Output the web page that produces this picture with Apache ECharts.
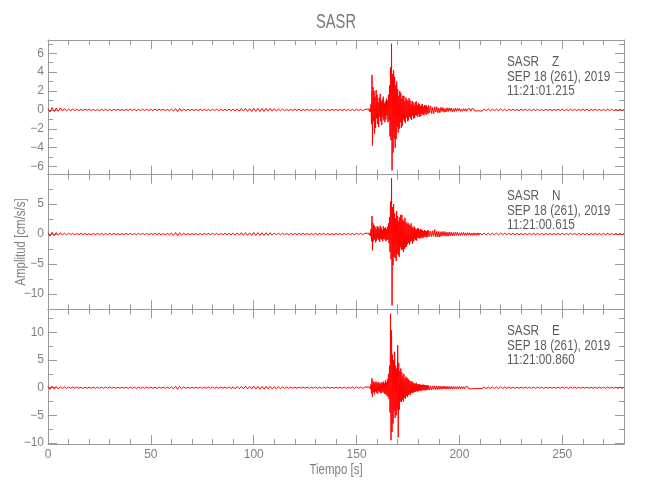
<!DOCTYPE html>
<html><head><meta charset="utf-8">
<script src="https://cdn.jsdelivr.net/npm/echarts@6/dist/echarts.min.js"></script>
<style>html,body{margin:0;padding:0;background:#fff}#c{width:650px;height:500px}</style>
</head><body><div id="c"></div>
<script>
// ---------- data ----------
const chartTitle = 'SASR';
const components = ['Z', 'N', 'E'];
const startTimes = ['11:21:01.215', '11:21:00.615', '11:21:00.860'];
const dateText = 'SEP 18 (261), 2019';
const xName = 'Tiempo [s]';
const yName = 'Amplitud [cm/s/s]';

// sampling segments (start time [s], sample step [s])
const segStart = [0, 155, 185, 210];
const segStep = [1, 0.25, 0.5, 1];

// Z component
const zPre = [0.12,-0.22,0.25,-0.18,0.2,-0.15,0.22,-0.12,0.15,-0.1,
  0.08,-0.07,0.09,-0.06,0.07,-0.08,0.06,-0.07,0.08,-0.05,
  0.07,-0.08,0.06,-0.07,0.05,-0.08,0.07,-0.06,0.08,-0.07,
  0.06,-0.08,0.07,-0.05,0.08,-0.07,0.06,-0.08,0.07,-0.06,
  0.08,-0.06,0.07,-0.08,0.05,-0.07,0.08,-0.06,0.07,-0.08,
  0.06,-0.07,0.08,-0.06,0.07,-0.05,0.08,-0.07,0.06,-0.08,
  0.09,-0.12,0.15,-0.18,0.16,-0.12,0.1,-0.08,0.07,-0.06,
  0.08,-0.07,0.06,-0.08,0.07,-0.06,0.08,-0.07,0.05,-0.08,
  0.07,-0.06,0.08,-0.07,0.06,-0.08,0.07,-0.06,0.08,-0.09,
  0.1,-0.12,0.11,-0.14,0.15,-0.13,0.16,-0.15,0.14,-0.17,
  0.18,-0.15,0.17,-0.16,0.14,-0.17,0.15,-0.13,0.16,-0.14,
  0.13,-0.12,0.11,-0.1,0.09,-0.08,0.07,-0.08,0.06,-0.07,
  0.08,-0.06,0.07,-0.08,0.06,-0.07,0.08,-0.06,0.07,-0.08,
  0.06,-0.07,0.08,-0.06,0.07,-0.08,0.05,-0.07,0.08,-0.06,
  0.07,-0.08,0.06,-0.07,0.08,-0.06,0.07,-0.08,0.06,-0.07,
  0.08,-0.06,0.07,-0.08,0.06];
const zEvent = [0.08,-0.1,0.12,-0.09, 0.1,-0.15,0.12,-0.18, 0.6,-1.5,3.7,-3.8, 2.4,-1.2,2.0,-2.5,
  1.4,-1.9,2.1,-0.9, 1.6,-1.5,0.8,-1.8, 1.3,-0.7,1.7,-1.2, 0.9,-1.6,1.1,-0.8,
  1.4,-1.1,0.7,-1.3, 0.9,-1.0,1.2,-0.6, 1.0,-1.3,1.6,-1.1, 2.6,-2.8,4.5,-3.2,
  7.0,-6.4,3.8,-4.5, 4.2,-3.0,3.5,-4.0, 2.6,-3.1,3.0,-1.8, 2.2,-2.4,1.5,-2.0,
  2.0,-1.3,1.8,-1.9, 1.2,-1.7,1.5,-1.0, 1.5,-1.2,0.9,-1.4, 1.3,-0.8,1.1,-1.2,
  0.9,-1.1,1.25,-0.7, 1.0,-0.9,0.6,-1.05, 0.95,-0.6,0.8,-0.9, 0.5,-0.85,0.8,-0.55,
  0.9,-0.6,0.5,-0.75, 0.7,-0.45,0.6,-0.72, 0.4,-0.65,0.55,-0.4, 0.62,-0.5,0.35,-0.55,
  0.5,-0.3,0.45,-0.52, 0.48,-0.35,0.3,-0.45];
const zCoda = [0.5,-0.3,0.42,-0.38,0.26,-0.4,0.34,-0.22,0.33,-0.3,
  0.2,-0.3,0.27,-0.18,0.26,-0.24,0.15,-0.22,0.23,-0.17,
  0.22,-0.13,0.21,-0.2,0.12,-0.18,0.2,-0.14,0.18,-0.11,
  0.17,-0.15,0.1,-0.15,0.14,-0.12,0.13,-0.14,0.09,-0.12,
  0.12,-0.13,0.11,-0.08,0.12,-0.11,0.1,-0.09,0.1,-0.1];
const zTail = [0.1,-0.12,0.09,-0.1,0.11,-0.09,0.08,-0.1,0.09,-0.08,
  0.1,-0.08,0.07,-0.09,0.08,-0.07,0.08,-0.07,0.06,-0.08,
  0.07,-0.06,0.08,-0.07,0.06,-0.08,0.07,-0.06,0.08,-0.07,
  0.06,-0.07,0.08,-0.06,0.07,-0.08,0.06,-0.07,0.08,-0.06,
  0.07,-0.08,0.06,-0.07,0.08,-0.06,0.07,-0.08,0.06,-0.07,
  0.08,-0.06,0.07,-0.08,0.06,-0.07,0.08,-0.06,0.07,-0.08,
  0.06,-0.07,0.08,-0.06,0.07,-0.08,0.06,-0.07,0.08,-0.06,
  0.05];

// N component
const nPre = [0.2,-0.35,0.3,-0.28,0.25,-0.2,0.22,-0.18,0.15,-0.13,
  0.12,-0.1,0.11,-0.12,0.09,-0.1,0.12,-0.09,0.1,-0.11,
  0.09,-0.12,0.1,-0.11,0.12,-0.09,0.1,-0.12,0.11,-0.1,
  0.12,-0.09,0.11,-0.1,0.09,-0.12,0.1,-0.11,0.12,-0.09,
  0.1,-0.12,0.09,-0.11,0.12,-0.1,0.11,-0.09,0.1,-0.12,
  0.11,-0.1,0.12,-0.09,0.1,-0.11,0.09,-0.12,0.1,-0.11,
  0.14,-0.2,0.25,-0.28,0.22,-0.18,0.14,-0.12,0.1,-0.11,
  0.12,-0.1,0.09,-0.11,0.1,-0.12,0.11,-0.09,0.1,-0.11,
  0.12,-0.1,0.11,-0.12,0.09,-0.1,0.12,-0.11,0.13,-0.14,
  0.16,-0.18,0.2,-0.17,0.22,-0.2,0.24,-0.21,0.2,-0.23,
  0.26,-0.22,0.24,-0.25,0.21,-0.24,0.22,-0.2,0.23,-0.19,
  0.18,-0.16,0.15,-0.14,0.13,-0.12,0.11,-0.12,0.1,-0.11,
  0.12,-0.1,0.11,-0.09,0.12,-0.1,0.11,-0.12,0.09,-0.1,
  0.11,-0.12,0.1,-0.09,0.12,-0.11,0.1,-0.12,0.09,-0.11,
  0.12,-0.1,0.11,-0.12,0.1,-0.09,0.12,-0.11,0.1,-0.12,
  0.11,-0.1,0.12,-0.11,0.13];
const nEvent = [0.12,-0.15,0.1,-0.14, 0.15,-0.2,0.18,-0.3, 0.8,-1.2,3.0,-2.7, 1.8,-1.2,1.5,-0.9,
  1.2,-1.4,0.8,-1.1, 1.3,-0.7,1.2,-1.0, 0.9,-1.3,1.4,-0.8, 1.1,-0.9,0.7,-1.2,
  1.3,-0.8,1.0,-0.9, 1.1,-1.2,0.8,-1.0, 1.2,-0.9,1.8,-1.5, 2.8,-3.0,5.4,-4.2,
  9.3,-11.9,4.5,-5.2, 5.0,-3.8,3.4,-4.0, 2.6,-4.5,3.8,-3.2, 3.0,-3.5,2.2,-3.8,
  2.8,-2.2,3.2,-2.6, 3.2,-2.6,2.4,-3.0, 2.1,-2.5,2.7,-2.2, 2.0,-2.1,1.6,-1.7,
  1.9,-1.5,1.6,-1.8, 1.4,-1.3,1.8,-1.1, 1.2,-1.6,1.0,-1.2, 1.3,-0.8,0.95,-1.0,
  0.8,-1.1,0.9,-0.6, 1.0,-0.7,0.6,-0.75, 0.85,-0.55,0.75,-0.6, 0.6,-0.7,0.5,-0.48,
  0.65,-0.5,0.55,-0.45, 0.45,-0.55,0.6,-0.4];
const nCoda = [0.6,-0.4,0.5,-0.45,0.55,-0.35,0.75,-0.5,0.45,-0.48,
  0.42,-0.5,0.38,-0.35,0.45,-0.3,0.4,-0.36,0.3,-0.37,
  0.34,-0.28,0.3,-0.3,0.26,-0.3,0.29,-0.22,0.3,-0.27,
  0.22,-0.27,0.25,-0.2,0.26,-0.23,0.2,-0.22,0.23,-0.18,
  0.21,-0.22,0.17,-0.21,0.2,-0.19,0.16,-0.18,0.19,-0.17];
const nTail = [0.18,-0.17,0.16,-0.17,0.15,-0.16,0.15,-0.14,0.16,-0.13,
  0.14,-0.13,0.12,-0.14,0.13,-0.12,0.12,-0.11,0.13,-0.12,
  0.11,-0.12,0.1,-0.11,0.12,-0.1,0.11,-0.1,0.12,-0.11,
  0.1,-0.12,0.11,-0.1,0.12,-0.11,0.1,-0.11,0.12,-0.1,
  0.11,-0.12,0.1,-0.11,0.12,-0.1,0.11,-0.12,0.1,-0.11,
  0.12,-0.1,0.11,-0.12,0.1,-0.11,0.12,-0.1,0.11,-0.12,
  0.1,-0.11,0.12,-0.1,0.11,-0.12,0.1,-0.11,0.12,-0.1,
  0.09];

// E component
const ePre = [0.22,-0.3,0.28,-0.25,0.2,-0.22,0.18,-0.15,0.16,-0.13,
  0.12,-0.11,0.13,-0.1,0.12,-0.11,0.1,-0.13,0.11,-0.12,
  0.1,-0.12,0.13,-0.11,0.1,-0.12,0.11,-0.1,0.13,-0.11,
  0.12,-0.1,0.11,-0.13,0.1,-0.11,0.12,-0.1,0.11,-0.12,
  0.13,-0.11,0.1,-0.12,0.11,-0.13,0.1,-0.11,0.12,-0.1,
  0.11,-0.12,0.1,-0.13,0.12,-0.1,0.11,-0.12,0.1,-0.11,
  0.15,-0.22,0.27,-0.3,0.24,-0.18,0.15,-0.13,0.11,-0.12,
  0.1,-0.11,0.12,-0.1,0.11,-0.13,0.1,-0.11,0.12,-0.1,
  0.11,-0.12,0.1,-0.11,0.13,-0.1,0.12,-0.11,0.14,-0.15,
  0.17,-0.2,0.22,-0.19,0.24,-0.21,0.26,-0.22,0.23,-0.25,
  0.28,-0.24,0.26,-0.27,0.23,-0.25,0.24,-0.22,0.25,-0.2,
  0.19,-0.17,0.16,-0.15,0.14,-0.13,0.12,-0.13,0.11,-0.12,
  0.1,-0.12,0.11,-0.1,0.13,-0.11,0.1,-0.12,0.11,-0.1,
  0.12,-0.11,0.1,-0.13,0.11,-0.1,0.12,-0.11,0.1,-0.12,
  0.11,-0.1,0.12,-0.11,0.1,-0.12,0.11,-0.1,0.13,-0.11,
  0.12,-0.1,0.11,-0.13,0.12];
const eEvent = [0.12,-0.14,0.15,-0.12, 0.18,-0.15,0.2,-0.25, 0.6,-1.1,1.7,-1.7, 1.2,-0.8,1.0,-1.2,
  0.9,-0.7,1.1,-0.9, 0.8,-1.1,1.0,-0.6, 0.9,-0.8,0.7,-1.0, 1.0,-0.9,0.8,-0.7,
  1.1,-0.9,0.8,-1.1, 1.3,-1.2,1.0,-1.4, 1.5,-1.6,2.5,-2.0, 4.0,-4.5,13.4,-9.5,
  10.4,-8.0,6.0,-6.5, 5.0,-4.2,6.5,-5.5, 4.0,-5.0,3.5,-4.0, 7.7,-9.0,4.5,-4.0,
  3.0,-2.5,3.5,-2.6, 2.8,-2.2,2.0,-2.5, 2.5,-1.8,1.6,-2.0, 2.0,-1.5,1.8,-1.7,
  1.6,-1.3,1.4,-1.2, 1.2,-1.25,1.1,-0.9, 1.15,-1.0,0.9,-0.85, 0.8,-0.75,0.7,-0.72,
  0.9,-0.6,0.65,-0.7, 0.6,-0.58,0.62,-0.5, 0.55,-0.6,0.5,-0.45, 0.52,-0.48,0.55,-0.4,
  0.46,-0.5,0.44,-0.42, 0.42,-0.43,0.4,-0.38];
const eCoda = [0.4,-0.38,0.36,-0.4,0.34,-0.3,0.35,-0.33,0.3,-0.32,
  0.32,-0.28,0.27,-0.3,0.29,-0.25,0.28,-0.26,0.25,-0.27,
  0.26,-0.23,0.22,-0.25,0.24,-0.21,0.2,-0.23,0.22,-0.2,
  0.21,-0.19,0.2,-0.21,0.18,-0.2,0.19,-0.17,0.18,-0.19,
  0.17,-0.18,0.16,-0.17,0.17,-0.15,0.15,-0.16,0.16,-0.15];
const eTail = [0.18,-0.16,0.15,-0.17,0.14,-0.15,0.16,-0.14,0.13,-0.15,
  0.13,-0.14,0.12,-0.13,0.14,-0.12,0.13,-0.12,0.11,-0.12,
  0.11,-0.1,0.12,-0.11,0.1,-0.12,0.11,-0.1,0.12,-0.11,
  0.1,-0.12,0.11,-0.1,0.12,-0.11,0.1,-0.12,0.11,-0.1,
  0.12,-0.11,0.1,-0.12,0.11,-0.1,0.12,-0.11,0.1,-0.12,
  0.11,-0.1,0.12,-0.11,0.1,-0.12,0.11,-0.1,0.12,-0.11,
  0.1,-0.12,0.11,-0.1,0.12,-0.11,0.1,-0.12,0.11,-0.1,
  0.1];

// axes / tick labels
const xRange = [0, 280];
const xMajor = [0, 50, 100, 150, 200, 250];
const xMinor = [10,20,30,40,60,70,80,90,110,120,130,140,160,170,180,190,210,220,230,240,260,270,280];
const yRanges = [[-6.85, 7.4], [-12.55, 9.9], [-10.2, 14.2]];
const yMajor = [[-6,-4,-2,0,2,4,6], [-10,-5,0,5], [-10,-5,0,5,10]];
const yMinor = [[-5,-3,-1,1,3,5,7], [-7.5,-2.5,2.5,7.5], [-7.5,-2.5,2.5,7.5,12.5]];

// ---------- build ----------
const FONT = "'Liberation Sans','Arial',sans-serif";
const AX = '#9a9a9a', LBL = '#808080', TXT = '#5c5c5c';
const traces = [[zPre, zEvent, zCoda, zTail], [nPre, nEvent, nCoda, nTail], [ePre, eEvent, eCoda, eTail]];
function buildTrace(segs) {
  const out = [];
  segs.forEach((vals, s) => vals.forEach((v, k) => out.push([segStart[s] + k * segStep[s], v])));
  return out;
}
const minus = v => String(v).replace('-', '\u2212');

const grids = [], xAxes = [], yAxes = [], series = [], graphics = [];
const top0 = 40, panelH = 134.67;
for (let i = 0; i < 3; i++) {
  grids.push({left: 48, right: 26, top: top0 + i * panelH, height: panelH});
  const mx = (pos, vals, len, line, lab) => ({
    type: 'value', gridIndex: i, position: pos, min: xRange[0], max: xRange[1],
    axisLine: {show: line, onZero: false, lineStyle: {color: AX, width: 1}},
    axisTick: {show: true, inside: true, length: len, customValues: vals, lineStyle: {color: AX}},
    axisLabel: {show: lab, customValues: vals, color: LBL, fontSize: 12, fontFamily: FONT, margin: 5},
    splitLine: {show: false}
  });
  xAxes.push(mx('bottom', xMajor, 9, true, i === 2), mx('bottom', xMinor, 5, false, false),
             mx('top', xMajor, 9, true, false), mx('top', xMinor, 5, false, false));
  const my = (pos, vals, len, line, lab) => ({
    type: 'value', gridIndex: i, position: pos, min: yRanges[i][0], max: yRanges[i][1],
    axisLine: {show: line, onZero: false, lineStyle: {color: AX, width: 1}},
    axisTick: {show: true, inside: true, length: len, customValues: vals, lineStyle: {color: AX}},
    axisLabel: {show: lab, customValues: vals, color: LBL, fontSize: 12, fontFamily: FONT, margin: 4, formatter: minus},
    splitLine: {show: false}
  });
  yAxes.push(my('left', yMajor[i], 9, true, true), my('left', yMinor[i], 5, false, false),
             my('right', yMajor[i], 9, true, false), my('right', yMinor[i], 5, false, false));
  series.push({
    type: 'line', xAxisIndex: i * 4, yAxisIndex: i * 4, data: buildTrace(traces[i]),
    showSymbol: false, symbol: 'none', silent: true, clip: true, sampling: null,
    lineStyle: {color: '#ff0000', width: 1}
  });
}
const annTop = [55, 189, 324];
for (let i = 0; i < 3; i++) {
  graphics.push({type: 'text', x: 507, y: annTop[i], scaleX: 0.84, silent: true, style: {
    text: 'SASR    ' + components[i] + '\n' + dateText + '\n' + startTimes[i],
    fill: TXT, fontSize: 14, fontFamily: FONT, lineHeight: 14.5, align: 'left', verticalAlign: 'top'}});
}
graphics.push({type: 'text', x: 336, y: 22, scaleX: 0.7, silent: true, style: {text: chartTitle, fill: '#7a7a7a', fontSize: 21, fontFamily: FONT, align: 'center', verticalAlign: 'middle'}});
graphics.push({type: 'text', x: 336, y: 470, scaleX: 0.82, silent: true, style: {text: xName, fill: LBL, fontSize: 14, fontFamily: FONT, align: 'center', verticalAlign: 'middle'}});
graphics.push({type: 'text', x: 21, y: 242, scaleX: 0.82, rotation: Math.PI / 2, silent: true, style: {text: yName, fill: LBL, fontSize: 14, fontFamily: FONT, align: 'center', verticalAlign: 'middle'}});

const chart = echarts.init(document.getElementById('c'), null, {renderer: 'canvas'});
chart.setOption({
  animation: false, backgroundColor: '#ffffff',
  grid: grids, xAxis: xAxes, yAxis: yAxes, series: series, graphic: graphics
});
</script></body></html>
